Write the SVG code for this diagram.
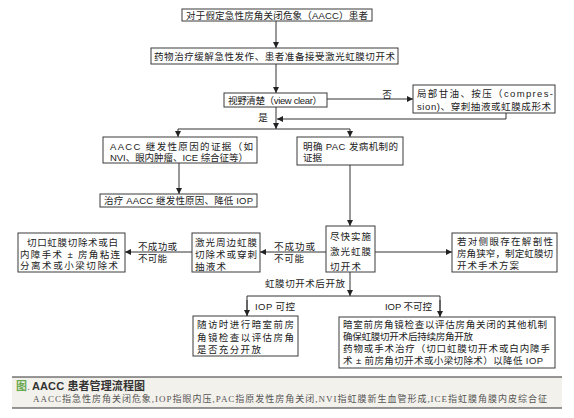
<svg xmlns="http://www.w3.org/2000/svg" width="574" height="418" viewBox="0 0 574 418">
<defs>
<style>
.bx{fill:#fff;stroke:#3a3a3a;stroke-width:1}
.t{font-family:"Liberation Sans","Noto Sans CJK SC",sans-serif;font-size:9.5px;fill:#222}
.lb{font-family:"Liberation Sans","Noto Sans CJK SC",sans-serif;font-size:9.5px;fill:#222}
.ln{fill:none;stroke:#333;stroke-width:1}
.cap{font-family:"Liberation Sans","Noto Sans CJK SC",sans-serif;font-size:11px;font-weight:bold;fill:#333}
.sub{font-family:"Liberation Serif","Noto Sans CJK SC",serif;font-size:9px;fill:#555}
</style>
<marker id="ar" markerWidth="6" markerHeight="6" refX="6" refY="3" orient="auto" markerUnits="userSpaceOnUse">
<path d="M0,0 L6,3 L0,6 z" fill="#222"/>
</marker>
</defs>
<rect width="574" height="418" fill="#fff"/>

<g id="connectors">
<line class="ln" x1="276" y1="21" x2="276" y2="48" marker-end="url(#ar)"/>
<line class="ln" x1="276" y1="64" x2="276" y2="93" marker-end="url(#ar)"/>
<line class="ln" x1="327" y1="99" x2="413" y2="99" marker-end="url(#ar)"/>
<polyline class="ln" points="506,113 506,119 277,119" marker-end="url(#ar)"/>
<line class="ln" x1="276" y1="107" x2="276" y2="129" marker-end="url(#ar)"/>
<line class="ln" x1="178" y1="129" x2="350" y2="129"/>
<line class="ln" x1="178" y1="129" x2="178" y2="137" marker-end="url(#ar)"/>
<line class="ln" x1="350" y1="129" x2="350" y2="137" marker-end="url(#ar)"/>
<line class="ln" x1="179" y1="163" x2="179" y2="194" marker-end="url(#ar)"/>
<line class="ln" x1="350" y1="165" x2="350" y2="226" marker-end="url(#ar)"/>
<line class="ln" x1="326" y1="252" x2="260" y2="252" marker-end="url(#ar)"/>
<line class="ln" x1="192" y1="252" x2="125" y2="252" marker-end="url(#ar)"/>
<line class="ln" x1="375" y1="252" x2="452" y2="252" marker-end="url(#ar)"/>
<line class="ln" x1="350" y1="272" x2="350" y2="296" marker-end="url(#ar)"/>
<polyline class="ln" points="247,316 247,296 440,296 440,317"/>
<line class="ln" x1="247" y1="300" x2="247" y2="316" marker-end="url(#ar)"/>
<line class="ln" x1="440" y1="300" x2="440" y2="317" marker-end="url(#ar)"/>
<text class="lb" x="387" y="97.5" text-anchor="middle">否</text>
<text class="lb" x="263" y="121" text-anchor="middle">是</text>
<text class="lb" x="138" y="249.5" textLength="39" lengthAdjust="spacing">不成功或</text>
<text class="lb" x="138" y="261.5" textLength="29" lengthAdjust="spacing">不可能</text>
<text class="lb" x="274" y="249.5" textLength="41" lengthAdjust="spacing">不成功或</text>
<text class="lb" x="274" y="261.5" textLength="30" lengthAdjust="spacing">不可能</text>
<text class="lb" x="265" y="286.5" textLength="80" lengthAdjust="spacing">虹膜切开术后开放</text>
<text class="lb" x="255" y="309.5" textLength="40" lengthAdjust="spacing">IOP 可控</text>
<text class="lb" x="385" y="310" textLength="47" lengthAdjust="spacing">IOP 不可控</text>
</g>

<g id="n1">
<rect class="bx" x="182" y="9" width="190" height="12"/>
<text class="t" x="186" y="18.5" textLength="182" lengthAdjust="spacing">对于假定急性房角关闭危象（AACC）患者</text>
</g>
<g id="n2">
<rect class="bx" x="151" y="48" width="247" height="16"/>
<text class="t" x="154" y="59.5" textLength="241" lengthAdjust="spacing">药物治疗缓解急性发作、患者准备接受激光虹膜切开术</text>
</g>
<g id="n3">
<rect class="bx" x="224" y="93" width="103" height="14"/>
<text class="t" x="228" y="103.5" textLength="94" lengthAdjust="spacing">视野清楚（view clear）</text>
</g>
<g id="n4">
<rect class="bx" x="413" y="85" width="142" height="28"/>
<text class="t" x="417" y="96.5" textLength="136" lengthAdjust="spacing">局部甘油、按压（compres-</text>
<text class="t" x="417" y="110" textLength="134" lengthAdjust="spacing">sion)、穿刺抽液或虹膜成形术</text>
</g>
<g id="n5">
<rect class="bx" x="103" y="137" width="154" height="26"/>
<text class="t" x="110" y="149.5" textLength="143" lengthAdjust="spacing">AACC 继发性原因的证据（如</text>
<text class="t" x="110" y="160.5" textLength="138" lengthAdjust="spacing">NVI、眼内肿瘤、ICE 综合征等）</text>
</g>
<g id="n6">
<rect class="bx" x="100" y="194" width="157" height="13"/>
<text class="t" x="104" y="204" textLength="149" lengthAdjust="spacing">治疗 AACC 继发性原因、降低 IOP</text>
</g>
<g id="n7">
<rect class="bx" x="297" y="137" width="106" height="28"/>
<text class="t" x="303" y="149.5" textLength="95" lengthAdjust="spacing">明确 PAC 发病机制的</text>
<text class="t" x="303" y="161">证据</text>
</g>
<g id="n8">
<rect class="bx" x="326" y="226" width="49" height="46"/>
<text class="t" x="330" y="239.5" textLength="41" lengthAdjust="spacing">尽快实施</text>
<text class="t" x="330" y="254.5" textLength="41" lengthAdjust="spacing">激光虹膜</text>
<text class="t" x="330" y="269.5" textLength="31" lengthAdjust="spacing">切开术</text>
</g>
<g id="n9">
<rect class="bx" x="192" y="233" width="68" height="39"/>
<text class="t" x="195" y="245.5" textLength="62" lengthAdjust="spacing">激光周边虹膜</text>
<text class="t" x="195" y="257.5" textLength="62" lengthAdjust="spacing">切除术或穿刺</text>
<text class="t" x="195" y="269.5" textLength="31" lengthAdjust="spacing">抽液术</text>
</g>
<g id="n10">
<rect class="bx" x="18" y="233" width="107" height="39"/>
<text class="t" x="27" y="245.5" textLength="91" lengthAdjust="spacing">切口虹膜切除术或白</text>
<text class="t" x="20" y="257.5" textLength="100" lengthAdjust="spacing">内障手术 ± 房角粘连</text>
<text class="t" x="20" y="269" textLength="98" lengthAdjust="spacing">分离术或小梁切除术</text>
</g>
<g id="n11">
<rect class="bx" x="452" y="233" width="105" height="39"/>
<text class="t" x="457" y="244.5" textLength="96" lengthAdjust="spacing">若对侧眼存在解剖性</text>
<text class="t" x="457" y="256.5" textLength="96" lengthAdjust="spacing">房角狭窄，制定虹膜切</text>
<text class="t" x="457" y="268.5" textLength="62" lengthAdjust="spacing">开术手术方案</text>
</g>
<g id="n12">
<rect class="bx" x="193" y="316" width="105" height="40"/>
<text class="t" x="197" y="327.5" textLength="97" lengthAdjust="spacing">随访时进行暗室前房</text>
<text class="t" x="197" y="340.5" textLength="97" lengthAdjust="spacing">角镜检查以评估房角</text>
<text class="t" x="197" y="353" textLength="64" lengthAdjust="spacing">是否充分开放</text>
</g>
<g id="n13">
<rect class="bx" x="339" y="317" width="216" height="51"/>
<text class="t" x="343" y="327.5" textLength="204" lengthAdjust="spacing">暗室前房角镜检查以评估房角关闭的其他机制</text>
<text class="t" x="343" y="339.5" textLength="130" lengthAdjust="spacing">确保虹膜切开术后持续房角开放</text>
<text class="t" x="343" y="351.5" textLength="207" lengthAdjust="spacing">药物或手术治疗（切口虹膜切开术或白内障手</text>
<text class="t" x="343" y="363.5" textLength="200" lengthAdjust="spacing">术 ± 前房角切开术或小梁切除术）以降低 IOP</text>
</g>

<g id="caption">
<rect x="12" y="377" width="550" height="31" fill="#f3f1ec"/>
<line x1="12" y1="377" x2="562" y2="377" stroke="#333" stroke-width="1.2"/>
<line x1="12" y1="408" x2="562" y2="408" stroke="#333" stroke-width="1.2"/>
<text class="cap" x="16" y="389.5"><tspan fill="#6aa84f">图</tspan><tspan fill="#888" font-weight="normal">.</tspan></text>
<text class="cap" x="32" y="389.5" textLength="113" lengthAdjust="spacing">AACC 患者管理流程图</text>
<text class="sub" x="33" y="401.5" textLength="514" lengthAdjust="spacing">AACC指急性房角关闭危象,IOP指眼内压,PAC指原发性房角关闭,NVI指虹膜新生血管形成,ICE指虹膜角膜内皮综合征</text>
</g>
</svg>
